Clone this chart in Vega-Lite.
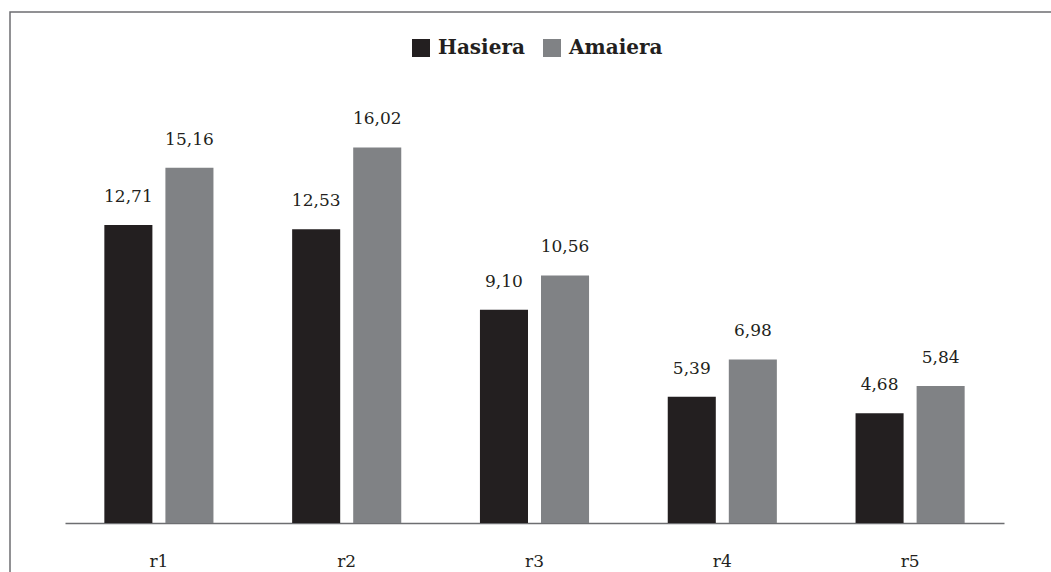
{
  "$schema": "https://vega.github.io/schema/vega-lite/v6.json",
  "width": 1050,
  "height": 570,
  "autosize": {"type": "none"},
  "padding": {"left": 10, "top": 12, "right": 0, "bottom": 0},
  "background": "white",
  "config": {
    "view": {"stroke": "#6d6e71", "strokeWidth": 1.5},
    "font": "DejaVu Serif",
    "locale": {"number": {"decimal": ",", "thousands": ".", "grouping": [3], "currency": ["", " €"]}}
  },
  "data": {
    "values": [
      {"r": "r1", "serie": "Hasiera", "value": 12.71},
      {"r": "r1", "serie": "Amaiera", "value": 15.16},
      {"r": "r2", "serie": "Hasiera", "value": 12.53},
      {"r": "r2", "serie": "Amaiera", "value": 16.02},
      {"r": "r3", "serie": "Hasiera", "value": 9.10},
      {"r": "r3", "serie": "Amaiera", "value": 10.56},
      {"r": "r4", "serie": "Hasiera", "value": 5.39},
      {"r": "r4", "serie": "Amaiera", "value": 6.98},
      {"r": "r5", "serie": "Hasiera", "value": 4.68},
      {"r": "r5", "serie": "Amaiera", "value": 5.84}
    ]
  },
  "encoding": {
    "x": {
      "field": "r", "type": "nominal",
      "scale": {"range": [55, 994], "paddingInner": 0.419, "paddingOuter": 0.2095},
      "axis": {
        "title": null, "ticks": false, "labelAngle": 0, "offset": -59,
        "domainColor": "#6d6e71", "domainWidth": 1.5,
        "labelFont": "DejaVu Serif", "labelFontSize": 17, "labelColor": "#231f20",
        "labelPadding": 30, "labelBaseline": "top"
      }
    },
    "xOffset": {
      "field": "serie", "type": "nominal", "sort": ["Hasiera", "Amaiera"],
      "scale": {"paddingInner": 0.213, "paddingOuter": 0}
    },
    "y": {
      "field": "value", "type": "quantitative",
      "scale": {"domain": [0, 17.065], "range": [511, 111], "nice": false, "zero": true},
      "axis": null
    }
  },
  "layer": [
    {
      "mark": {"type": "bar"},
      "encoding": {
        "color": {
          "field": "serie", "type": "nominal",
          "scale": {"domain": ["Hasiera", "Amaiera"], "range": ["#231f20", "#808285"]},
          "legend": {
            "title": null, "orient": "none", "direction": "horizontal",
            "legendX": 401, "legendY": 26, "padding": 0,
            "symbolType": "square", "symbolSize": 324, "symbolStrokeWidth": 0,
            "labelFont": "DejaVu Serif", "labelFontWeight": "bold", "labelFontSize": 20,
            "labelColor": "#231f20", "labelOffset": 7, "columnPadding": 17
          }
        }
      }
    },
    {
      "mark": {"type": "text", "baseline": "alphabetic", "dy": -23, "font": "DejaVu Serif", "fontSize": 17, "color": "#231f20"},
      "encoding": {
        "text": {"field": "value", "type": "quantitative", "format": ".2f"}
      }
    }
  ]
}
